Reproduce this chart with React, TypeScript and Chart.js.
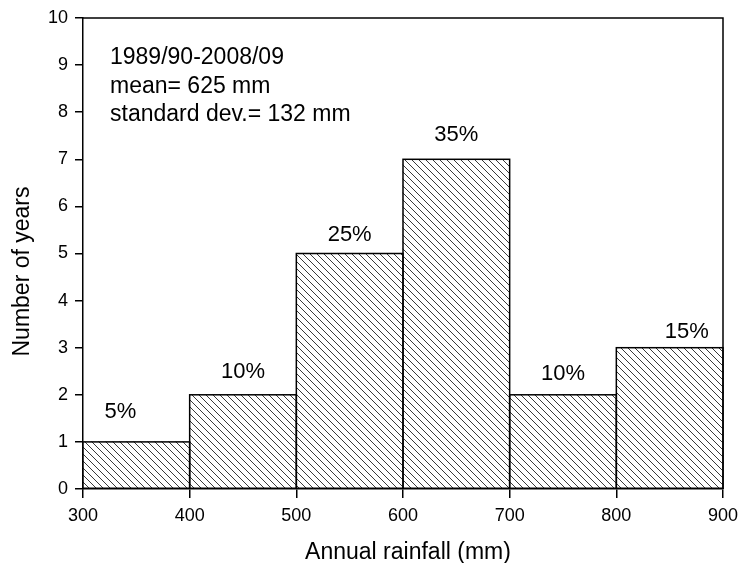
import React, { useEffect, useRef } from "react";
import { Chart, registerables } from "chart.js";

Chart.register(...registerables);

const binStarts = [300, 400, 500, 600, 700, 800];
const binWidth = 100;
const counts = [1, 2, 5, 7, 2, 3];
const percentLabels = ["5%", "10%", "25%", "35%", "10%", "15%"];
const percentX = [335, 450, 550, 650, 750, 866];
const percentY = [1.63, 2.49, 5.39, 7.52, 2.44, 3.34];
const annotationLines = ["1989/90-2008/09", "mean= 625 mm", "standard dev.= 132 mm"];
const xTicks = [300, 400, 500, 600, 700, 800, 900];
const yTicks = [0, 1, 2, 3, 4, 5, 6, 7, 8, 9, 10];
const xTitle = "Annual rainfall (mm)";
const yTitle = "Number of years";

const FONT = "'Liberation Sans', Arial, Helvetica, sans-serif";

function makeHatch(): CanvasPattern | string {
  const s = 7;
  const c = document.createElement("canvas");
  c.width = s;
  c.height = s;
  const g = c.getContext("2d");
  if (!g) return "#fff";
  g.fillStyle = "#ffffff";
  g.fillRect(0, 0, s, s);
  g.strokeStyle = "#3a3a3a";
  g.lineWidth = 1;
  for (let k = -1; k <= 1; k++) {
    g.beginPath();
    g.moveTo(k * s, 0);
    g.lineTo(k * s + s, s);
    g.stroke();
  }
  const p = g.createPattern(c, "repeat");
  return p || "#fff";
}

const overlayPlugin = {
  id: "overlay",
  afterDatasetsDraw(chart: any) {
    const { ctx, chartArea, scales } = chart;
    const xs = scales.x;
    const ys = scales.y;
    ctx.save();
    // bar outlines
    const meta = chart.getDatasetMeta(0);
    ctx.strokeStyle = "#000";
    ctx.lineWidth = 1.5;
    meta.data.forEach((el: any) => {
      const p = el.getProps(["x", "y", "base", "width"], true);
      const l = p.x - p.width / 2;
      ctx.strokeRect(l, p.y, p.width, p.base - p.y);
    });
    // frame top/right
    ctx.beginPath();
    ctx.moveTo(chartArea.left, chartArea.top);
    ctx.lineTo(chartArea.right, chartArea.top);
    ctx.lineTo(chartArea.right, chartArea.bottom);
    ctx.stroke();
    // percent labels
    ctx.fillStyle = "#000";
    ctx.font = `22px ${FONT}`;
    ctx.textAlign = "center";
    ctx.textBaseline = "middle";
    percentLabels.forEach((t, i) => {
      ctx.fillText(t, xs.getPixelForValue(percentX[i]), ys.getPixelForValue(percentY[i]));
    });
    // annotation
    ctx.font = `23px ${FONT}`;
    ctx.textAlign = "left";
    ctx.textBaseline = "alphabetic";
    annotationLines.forEach((t, i) => {
      ctx.fillText(t, chartArea.left + 27, chartArea.top + 46 + i * 28.5);
    });
    // axis titles
    ctx.textAlign = "center";
    ctx.textBaseline = "alphabetic";
    ctx.fillText(xTitle, (chartArea.left + chartArea.right) / 2 + 5, chartArea.bottom + 70);
    ctx.save();
    ctx.translate(29, (chartArea.top + chartArea.bottom) / 2 + 18);
    ctx.rotate(-Math.PI / 2);
    ctx.fillText(yTitle, 0, 0);
    ctx.restore();
    ctx.restore();
  },
};

export default function App() {
  const ref = useRef<HTMLCanvasElement | null>(null);
  useEffect(() => {
    if (!ref.current) return;
    const hatch = makeHatch();
    const chart = new Chart(ref.current, {
      type: "bar",
      data: {
        datasets: [
          {
            data: counts.map((c, i) => ({ x: binStarts[i] + binWidth / 2, y: c })),
            backgroundColor: hatch as any,
            borderWidth: 0,
            barPercentage: 1,
            categoryPercentage: 1,
          },
        ],
      },
      options: {
        animation: false,
        responsive: false,
        devicePixelRatio: 1,
        layout: { padding: { left: 0, top: 18, right: 15, bottom: 0 } },
        plugins: { legend: { display: false }, tooltip: { enabled: false } },
        font: { family: FONT },
        scales: {
          x: {
            type: "linear",
            min: 300,
            max: 900,
            offset: false,
            afterBuildTicks: (s: any) => {
              s.ticks = xTicks.map((v) => ({ value: v }));
            },
            afterFit: (s: any) => {
              s.height = 74;
              s.paddingLeft = 0;
              s.paddingRight = 0;
            },
            grid: {
              offset: false,
              drawOnChartArea: false,
              drawTicks: true,
              tickLength: 9,
              color: "#000",
              lineWidth: 1.5,
            },
            border: { display: true, color: "#000", width: 1.5 },
            ticks: {
              color: "#000",
              padding: 7,
              maxRotation: 0,
              autoSkip: false,
              font: { family: FONT, size: 18 },
            },
            title: { display: false },
          },
          y: {
            type: "linear",
            min: 0,
            max: 10,
            afterBuildTicks: (s: any) => {
              s.ticks = yTicks.map((v) => ({ value: v }));
            },
            afterFit: (s: any) => {
              s.width = 83;
              s.paddingTop = 0;
              s.paddingBottom = 0;
            },
            grid: {
              drawOnChartArea: false,
              drawTicks: true,
              tickLength: 8,
              color: "#000",
              lineWidth: 1.5,
            },
            border: { display: true, color: "#000", width: 1.5 },
            ticks: {
              color: "#000",
              padding: 7,
              autoSkip: false,
              font: { family: FONT, size: 18 },
            },
            title: { display: false },
          },
        },
      } as any,
      plugins: [overlayPlugin],
    });
    return () => chart.destroy();
  }, []);
  return (
    <div style={{ position: "fixed", left: 0, top: 0, width: 738, height: 563, background: "#fff" }}>
      <canvas ref={ref} width={738} height={563} style={{ width: 738, height: 563, display: "block" }} />
    </div>
  );
}
